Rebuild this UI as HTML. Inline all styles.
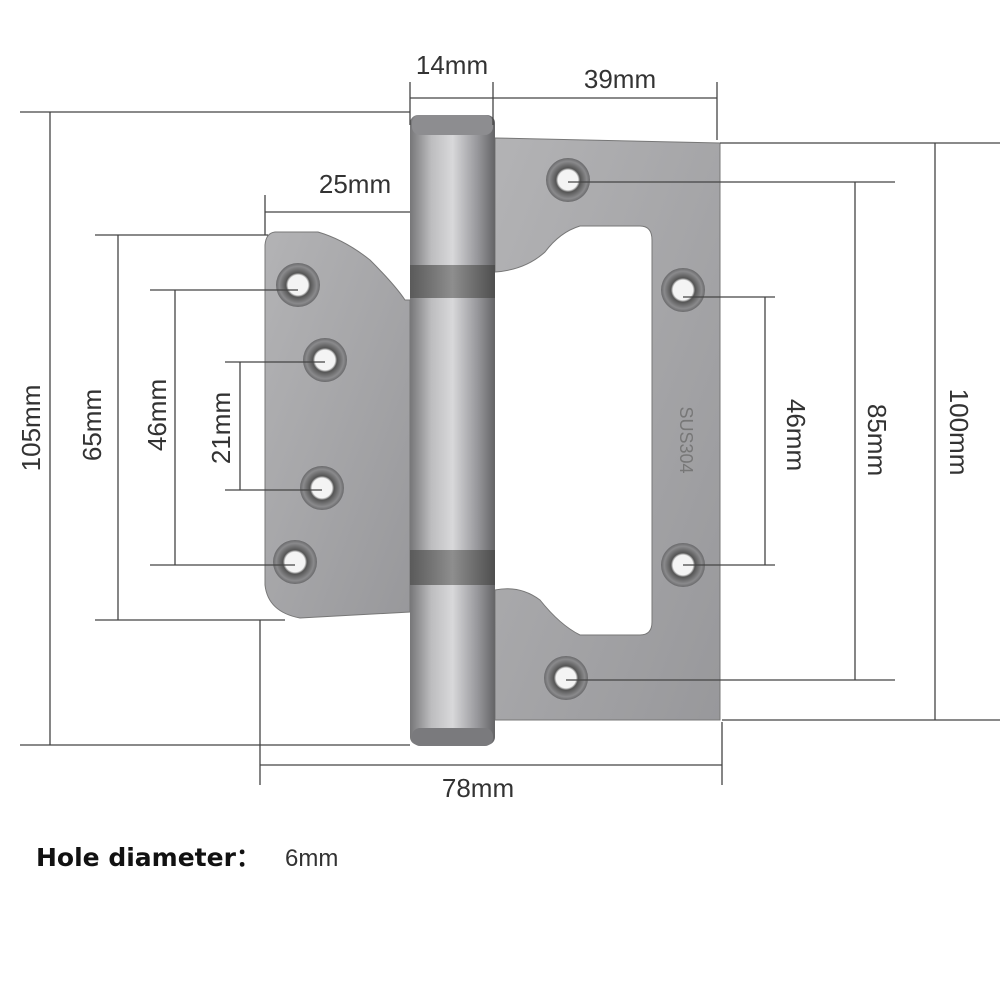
<!DOCTYPE html>
<html><head><meta charset="utf-8">
<style>
html,body{margin:0;padding:0;background:#fff;}
svg{display:block;}
text{font-family:"Liberation Sans",sans-serif;fill:#333;}
</style></head>
<body>
<svg width="1000" height="1000" viewBox="0 0 1000 1000" xmlns="http://www.w3.org/2000/svg">
<defs>
<linearGradient id="barrel" x1="0" x2="1" y1="0" y2="0">
<stop offset="0" stop-color="#767678"/><stop offset="0.25" stop-color="#bdbdbf"/>
<stop offset="0.5" stop-color="#d8d8da"/><stop offset="0.8" stop-color="#96969a"/><stop offset="1" stop-color="#646466"/>
</linearGradient>
<linearGradient id="leaf" x1="0" x2="1" y1="0" y2="1">
<stop offset="0" stop-color="#b3b3b5"/><stop offset="1" stop-color="#98989b"/>
</linearGradient>
<linearGradient id="ring" x1="0" x2="1">
<stop offset="0" stop-color="#5a5a5a"/><stop offset="0.5" stop-color="#8e8e8e"/><stop offset="1" stop-color="#4e4e4e"/>
</linearGradient>
<radialGradient id="hole"><stop offset="0.45" stop-color="#f4f4f4"/><stop offset="0.55" stop-color="#555"/><stop offset="0.85" stop-color="#8a8a8c"/><stop offset="1" stop-color="#6a6a6c"/></radialGradient>
</defs>

<path d="M275,232 L318,232 Q345,240 370,260 Q395,285 405,300 L410,300 L410,612 L300,618 Q268,612 265,585 L265,245 Q266,233 275,232 Z" fill="url(#leaf)" stroke="#777" stroke-width="1"/>
<path d="M495,138 L720,143 L720,720 L495,720 L495,590 Q520,585 540,600 Q560,625 580,635 L640,635 Q652,635 652,622 L652,240 Q652,226 640,226 L580,226 Q560,232 545,252 Q525,270 495,272 Z" fill="url(#leaf)" stroke="#777" stroke-width="1"/>
<rect x="410" y="115" width="85" height="630" rx="8" fill="url(#barrel)"/>
<rect x="412" y="115" width="81" height="20" rx="8" fill="#8d8d90"/>
<rect x="412" y="728" width="81" height="18" rx="8" fill="#7a7a7d"/>
<rect x="410" y="265" width="85" height="33" fill="url(#ring)"/>
<rect x="410" y="550" width="85" height="35" fill="url(#ring)"/>
<g>
<circle cx="298" cy="285" r="22" fill="url(#hole)"/>
<circle cx="325" cy="360" r="22" fill="url(#hole)"/>
<circle cx="322" cy="488" r="22" fill="url(#hole)"/>
<circle cx="295" cy="562" r="22" fill="url(#hole)"/>
<circle cx="568" cy="180" r="22" fill="url(#hole)"/>
<circle cx="683" cy="290" r="22" fill="url(#hole)"/>
<circle cx="683" cy="565" r="22" fill="url(#hole)"/>
<circle cx="566" cy="678" r="22" fill="url(#hole)"/>
</g>
<text transform="translate(680,440) rotate(90)" font-size="18" style="fill:#777" text-anchor="middle">SUS304</text>

<g stroke="#444" stroke-width="1.3" fill="none">
<line x1="50" y1="112" x2="50" y2="745"/>
<line x1="20" y1="112" x2="410" y2="112"/>
<line x1="20" y1="745" x2="410" y2="745"/>
<line x1="118" y1="235" x2="118" y2="620"/>
<line x1="95" y1="235" x2="268" y2="235"/>
<line x1="95" y1="620" x2="285" y2="620"/>
<line x1="175" y1="290" x2="175" y2="565"/>
<line x1="150" y1="290" x2="298" y2="290"/>
<line x1="150" y1="565" x2="295" y2="565"/>
<line x1="240" y1="362" x2="240" y2="490"/>
<line x1="225" y1="362" x2="325" y2="362"/>
<line x1="225" y1="490" x2="322" y2="490"/>
<line x1="410" y1="82" x2="410" y2="125"/>
<line x1="493" y1="82" x2="493" y2="125"/>
<line x1="410" y1="98" x2="717" y2="98"/>
<line x1="717" y1="82" x2="717" y2="140"/>
<line x1="265" y1="195" x2="265" y2="235"/>
<line x1="265" y1="212" x2="410" y2="212"/>
<line x1="260" y1="620" x2="260" y2="785"/>
<line x1="722" y1="722" x2="722" y2="785"/>
<line x1="260" y1="765" x2="722" y2="765"/>
<line x1="935" y1="143" x2="935" y2="720"/>
<line x1="720" y1="143" x2="1000" y2="143"/>
<line x1="722" y1="720" x2="1000" y2="720"/>
<line x1="855" y1="182" x2="855" y2="680"/>
<line x1="568" y1="182" x2="895" y2="182"/>
<line x1="566" y1="680" x2="895" y2="680"/>
<line x1="765" y1="297" x2="765" y2="565"/>
<line x1="683" y1="297" x2="775" y2="297"/>
<line x1="683" y1="565" x2="775" y2="565"/>
</g>

<g font-size="26">
<text x="452" y="74" text-anchor="middle">14mm</text>
<text x="620" y="88" text-anchor="middle">39mm</text>
<text x="355" y="193" text-anchor="middle">25mm</text>
<text x="478" y="797" text-anchor="middle">78mm</text>
<text transform="translate(40,428) rotate(-90)" text-anchor="middle">105mm</text>
<text transform="translate(101,425) rotate(-90)" text-anchor="middle">65mm</text>
<text transform="translate(166,415) rotate(-90)" text-anchor="middle">46mm</text>
<text transform="translate(230,428) rotate(-90)" text-anchor="middle">21mm</text>
<text transform="translate(787,435) rotate(90)" text-anchor="middle">46mm</text>
<text transform="translate(868,440) rotate(90)" text-anchor="middle">85mm</text>
<text transform="translate(950,432) rotate(90)" text-anchor="middle">100mm</text>
</g>
<text x="36" y="866" font-size="25" font-weight="bold" style="fill:#111;font-family:'DejaVu Sans',sans-serif">Hole diameter：</text>
<text x="285" y="866" font-size="24" style="fill:#333">6mm</text>
</svg>
</body></html>
